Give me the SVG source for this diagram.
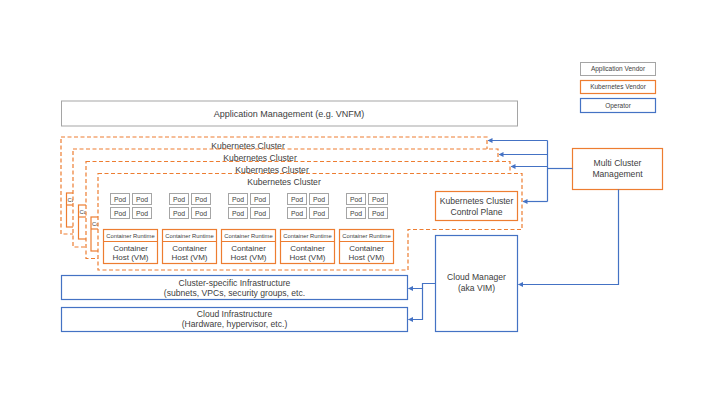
<svg xmlns="http://www.w3.org/2000/svg" width="720" height="405" viewBox="0 0 720 405">
<defs>
<style>
text{font-family:"Liberation Sans",Arial,sans-serif;fill:#404040;text-anchor:middle}
.gray{fill:#fff;stroke:#A5A5A5;stroke-width:1}
.org{fill:#fff;stroke:#ED7D31;stroke-width:1.2}
.blu{fill:#fff;stroke:#4472C4;stroke-width:1.2}
.frame{fill:#fff;stroke:#ED7D31;stroke-width:1.2;stroke-dasharray:4 2.5}
.sep{stroke:#ED7D31;stroke-width:1.2;fill:none}
.conn{fill:none;stroke:#4472C4;stroke-width:1.2}
.t9{font-size:9px}
.t85{font-size:8.6px}
.t8{font-size:8px}
.t7{font-size:6.8px}
.t65{font-size:6.5px}
.t6{font-size:5.8px}
</style>
<marker id="ah" viewBox="0 0 10 10" refX="9" refY="5" markerWidth="5" markerHeight="5" markerUnits="userSpaceOnUse" orient="auto">
<path d="M0,0 L10,5 L0,10 Z" fill="#4472C4"/>
</marker>
<g id="pods">
<rect class="gray" x="0" y="0" width="19" height="11"/>
<rect class="gray" x="22" y="0" width="19" height="11"/>
<rect class="gray" x="0" y="14" width="19" height="11"/>
<rect class="gray" x="22" y="14" width="19" height="11"/>
</g>
</defs>
<rect width="720" height="405" fill="#fff"/>

<g id="legend">
<g id="legend-app"><rect class="gray" x="580.5" y="62.5" width="75" height="13"/><text class="t65" x="618" y="71.3">Application Vendor</text></g>
<g id="legend-k8s"><rect class="org" x="580.5" y="80.5" width="75" height="13"/><text class="t65" x="618" y="89.3">Kubernetes Vendor</text></g>
<g id="legend-op"><rect class="blu" x="580.5" y="98.5" width="75" height="14"/><text class="t65" x="618" y="107.8">Operator</text></g>
</g>

<g id="app-mgmt">
<rect class="gray" x="61.5" y="101" width="456" height="25"/>
<text class="t9" x="289" y="116.5">Application Management (e.g. VNFM)</text>
</g>

<g id="cluster-1">
<path class="frame" d="M61,137 H487 V193 H373 V234 H61 Z"/>
<rect class="org" x="66.5" y="193" width="12" height="34"/>
<line class="sep" x1="66.5" y1="205" x2="78.5" y2="205"/>
<text class="t6" x="71" y="201.5" style="text-anchor:start" dx="-3.5">Co</text>
<text class="t85" x="248" y="149">Kubernetes Cluster</text>
</g>
<g id="cluster-2">
<path class="frame" d="M73,149 H498 V205 H384 V247 H73 Z"/>
<rect class="org" x="78.5" y="205" width="12" height="34"/>
<line class="sep" x1="78.5" y1="217" x2="90.5" y2="217"/>
<text class="t6" x="79.5" y="213.5" style="text-anchor:start">Co</text>
<text class="t85" x="260" y="160.5">Kubernetes Cluster</text>
</g>
<g id="cluster-3">
<path class="frame" d="M86,161.5 H510 V217 H396 V258.5 H86 Z"/>
<rect class="org" x="91" y="217" width="12" height="34"/>
<line class="sep" x1="91" y1="229" x2="103" y2="229"/>
<text class="t6" x="92" y="225.5" style="text-anchor:start">Co</text>
<text class="t85" x="272" y="172.5">Kubernetes Cluster</text>
</g>
<g id="cluster-4">
<path class="frame" d="M98,173.5 H522 V229.5 H408 V270 H98 Z"/>
<text class="t85" x="284" y="184.5">Kubernetes Cluster</text>
</g>

<g id="workers">
<g id="host-1">
<use href="#pods" x="110.5" y="193.5"/>
<rect class="org" x="103.5" y="229.5" width="54" height="34"/>
<line class="sep" x1="103.5" y1="241.5" x2="157.5" y2="241.5"/>
</g>
<g id="host-2">
<use href="#pods" x="169.5" y="193.5"/>
<rect class="org" x="162.5" y="229.5" width="54" height="34"/>
<line class="sep" x1="162.5" y1="241.5" x2="216.5" y2="241.5"/>
</g>
<g id="host-3">
<use href="#pods" x="228.5" y="193.5"/>
<rect class="org" x="221.5" y="229.5" width="54" height="34"/>
<line class="sep" x1="221.5" y1="241.5" x2="275.5" y2="241.5"/>
</g>
<g id="host-4">
<use href="#pods" x="287.5" y="193.5"/>
<rect class="org" x="280.5" y="229.5" width="54" height="34"/>
<line class="sep" x1="280.5" y1="241.5" x2="334.5" y2="241.5"/>
</g>
<g id="host-5">
<use href="#pods" x="346.5" y="193.5"/>
<rect class="org" x="339.5" y="229.5" width="54" height="34"/>
<line class="sep" x1="339.5" y1="241.5" x2="393.5" y2="241.5"/>
</g>
<g class="t7">
<text x="120" y="201.5">Pod</text><text x="142" y="201.5">Pod</text><text x="120" y="215.5">Pod</text><text x="142" y="215.5">Pod</text>
<text x="179" y="201.5">Pod</text><text x="201" y="201.5">Pod</text><text x="179" y="215.5">Pod</text><text x="201" y="215.5">Pod</text>
<text x="238" y="201.5">Pod</text><text x="260" y="201.5">Pod</text><text x="238" y="215.5">Pod</text><text x="260" y="215.5">Pod</text>
<text x="297" y="201.5">Pod</text><text x="319" y="201.5">Pod</text><text x="297" y="215.5">Pod</text><text x="319" y="215.5">Pod</text>
<text x="356" y="201.5">Pod</text><text x="378" y="201.5">Pod</text><text x="356" y="215.5">Pod</text><text x="378" y="215.5">Pod</text>
</g>
<g class="t6">
<text x="130.5" y="237.5">Container Runtime</text>
<text x="189.5" y="237.5">Container Runtime</text>
<text x="248.5" y="237.5">Container Runtime</text>
<text x="307.5" y="237.5">Container Runtime</text>
<text x="366.5" y="237.5">Container Runtime</text>
</g>
<g class="t8">
<text x="130.5" y="250.5">Container</text><text x="130.5" y="259.5">Host (VM)</text>
<text x="189.5" y="250.5">Container</text><text x="189.5" y="259.5">Host (VM)</text>
<text x="248.5" y="250.5">Container</text><text x="248.5" y="259.5">Host (VM)</text>
<text x="307.5" y="250.5">Container</text><text x="307.5" y="259.5">Host (VM)</text>
<text x="366.5" y="250.5">Container</text><text x="366.5" y="259.5">Host (VM)</text>
</g>
</g>

<g id="control-plane">
<rect class="org" x="435.5" y="191.5" width="82" height="29"/>
<text class="t85" x="476.5" y="203.5">Kubernetes Cluster</text>
<text class="t85" x="476.5" y="214.5">Control Plane</text>
</g>

<g id="multi-cluster-mgmt">
<rect class="org" x="572.5" y="148.5" width="90" height="41"/>
<text class="t85" x="617.5" y="166">Multi Cluster</text>
<text class="t85" x="617.5" y="177">Management</text>
</g>

<g id="cloud-manager">
<rect class="blu" x="435.5" y="235.5" width="82" height="96"/>
<text class="t85" x="476.5" y="280">Cloud Manager</text>
<text class="t85" x="476.5" y="291">(aka VIM)</text>
</g>

<g id="cluster-infra">
<rect class="blu" x="61.5" y="275.5" width="346" height="24"/>
<text class="t85" x="234.5" y="285.5">Cluster-specific Infrastructure</text>
<text class="t85" x="234.5" y="296">(subnets, VPCs, security groups, etc.</text>
</g>

<g id="cloud-infra">
<rect class="blu" x="61.5" y="307.5" width="346" height="24"/>
<text class="t85" x="234.5" y="316.5">Cloud Infrastructure</text>
<text class="t85" x="234.5" y="327">(Hardware, hypervisor, etc.)</text>
</g>

<g id="connectors">
<path class="conn" d="M572.5,168.5 H547.5"/>
<path class="conn" d="M547.5,140.5 V201.5"/>
<path class="conn" d="M547.5,140.5 H488" marker-end="url(#ah)"/>
<path class="conn" d="M547.5,154.5 H499" marker-end="url(#ah)"/>
<path class="conn" d="M547.5,166.5 H511" marker-end="url(#ah)"/>
<path class="conn" d="M547.5,201.5 H523" marker-end="url(#ah)"/>
<path class="conn" d="M618.5,189.5 V284.5 H518.5" marker-end="url(#ah)"/>
<path class="conn" d="M435.5,283.5 H422.5 V288.5 H408.5" marker-end="url(#ah)"/>
<path class="conn" d="M422.5,288.5 V319.5 H408.5" marker-end="url(#ah)"/>
</g>
</svg>
